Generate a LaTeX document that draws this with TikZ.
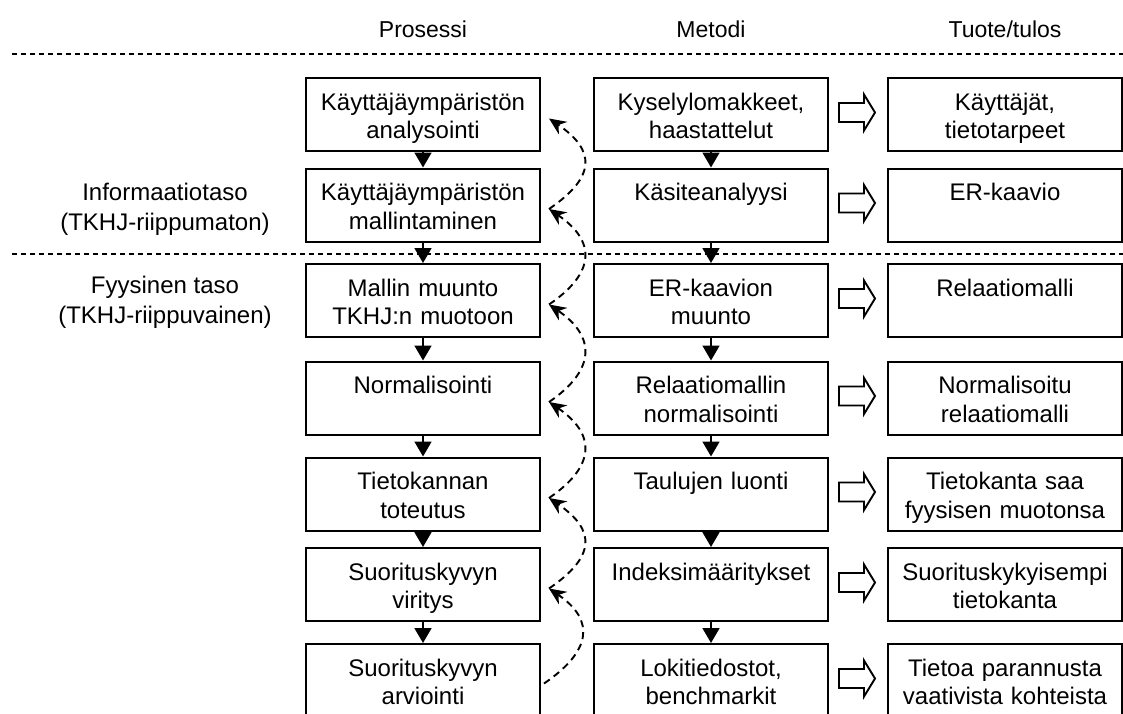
\documentclass[tikz,border=0pt]{standalone}
\usepackage{fontspec}
\setmainfont{Liberation Sans}
\usetikzlibrary{arrows.meta,calc}
\newcommand{\twol}[2]{\rule{0pt}{26pt}#1\\#2\rule[-6.5pt]{0pt}{6.5pt}}
\begin{document}
\begin{tikzpicture}[x=1pt,y=-1pt,
  box/.style={draw, line width=2pt, minimum width=234pt, minimum height=73pt,
    inner sep=0pt, text width=226pt, align=center,
    font=\fontsize{24}{28.5}\selectfont},
  head/.style={font=\fontsize{23}{27}\selectfont, anchor=base, inner sep=0pt},
  lvl/.style={font=\fontsize{24}{30}\selectfont, align=center, inner sep=0pt},
  hdash/.style={line width=1.1pt, dash pattern=on 5pt off 4pt},
  down/.style={line width=1.8pt, -{Triangle[length=15pt,width=17pt]}},
  dasharc/.style={line width=1.9pt, dash pattern=on 7pt off 5pt,
    -{Stealth[length=17pt,width=15pt]}},
  blk/.style={line width=1.9pt, fill=white, line join=miter}]
\useasboundingbox (0,0) rectangle (1123,713);

% headers
\node[head] (hp) at (423,37) {Prosessi};
\node[head] (hm) at (711,37) {Metodi};
\node[head] (ht) at (1005,37) {Tuote/tulos};

% separators
\draw[hdash] (12,54) -- (1123,54);
\draw[hdash] (12,254) -- (1123,254);

% level labels
\node[lvl] (info) at (165,209) {Informaatiotaso\\(TKHJ-riippumaton)};
\node[lvl] (fyys) at (165,302) {Fyysinen taso\\(TKHJ-riippuvainen)};

% process column
\node[box] (p1) at (423,114.5) {\twol{Käyttäjäympäristön}{analysointi}};
\node[box] (p2) at (423,205)   {\twol{Käyttäjäympäristön}{mallintaminen}};
\node[box] (p3) at (423,300.5) {\twol{Mallin muunto}{TKHJ:n muotoon}};
\node[box] (p4) at (423,398)   {\twol{Normalisointi}{}};
\node[box] (p5) at (423,494)   {\twol{Tietokannan}{toteutus}};
\node[box] (p6) at (423,584.5) {\twol{Suorituskyvyn}{viritys}};
\node[box] (p7) at (423,680.5) {\twol{Suorituskyvyn}{arviointi}};

% method column
\node[box] (m1) at (711,114.5) {\twol{Kyselylomakkeet,}{haastattelut}};
\node[box] (m2) at (711,205)   {\twol{Käsiteanalyysi}{}};
\node[box] (m3) at (711,300.5) {\twol{ER-kaavion}{muunto}};
\node[box] (m4) at (711,398)   {\twol{Relaatiomallin}{normalisointi}};
\node[box] (m5) at (711,494)   {\twol{Taulujen luonti}{}};
\node[box] (m6) at (711,584.5) {\twol{Indeksimääritykset}{}};
\node[box] (m7) at (711,680.5) {\twol{Lokitiedostot,}{benchmarkit}};

% result column
\node[box] (r1) at (1005,114.5) {\twol{Käyttäjät,}{tietotarpeet}};
\node[box] (r2) at (1005,205)   {\twol{ER-kaavio}{}};
\node[box] (r3) at (1005,300.5) {\twol{Relaatiomalli}{}};
\node[box] (r4) at (1005,398)   {\twol{Normalisoitu}{relaatiomalli}};
\node[box] (r5) at (1005,494)   {\twol{Tietokanta saa}{fyysisen muotonsa}};
\node[box] (r6) at (1005,584.5) {\twol{Suorituskykyisempi}{tietokanta}};
\node[box] (r7) at (1005,680.5) {\twol{Tietoa parannusta}{vaativista kohteista}};

% down arrows
\foreach \a/\b in {1/2,2/3,3/4,4/5,5/6,6/7}{
  \draw[down] (p\a) -- (p\b);
  \draw[down] (m\a) -- (m\b);
}

% block arrows method -> result
\foreach \k in {1,...,7}{
  \draw[blk] ($(m\k.east)+(10,-11.5)$) -- ++(25,0) -- ++(0,-8.5) -- ++(11,18)
    -- ++(-11,18) -- ++(0,-8.5) -- ++(-25,0) -- cycle;
}

% feedback arcs
\foreach \k in {1,...,6}{
  \coordinate (t\k) at ($(p\k.east)+(8,4)$);
}
\coordinate (t7) at ($(p7.east)+(3,3)$);
\foreach \a/\b in {7/6,6/5,5/4,4/3,3/2,2/1}{
  \draw[dasharc] (t\a) .. controls +(47,-32) and +(47,32) .. (t\b);
}
\end{tikzpicture}
\end{document}
